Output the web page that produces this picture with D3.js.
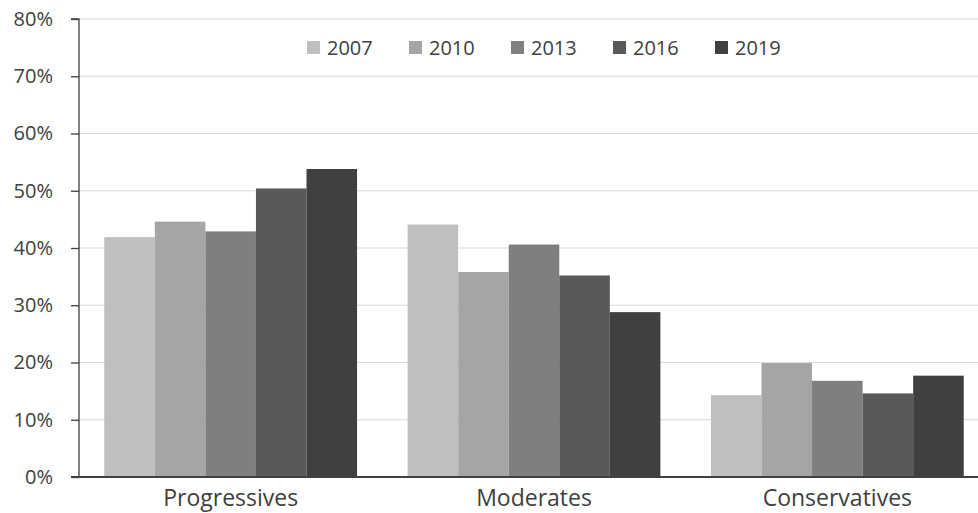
<!DOCTYPE html>
<html>
<head>
<meta charset="utf-8">
<script src="https://cdn.jsdelivr.net/npm/d3@7"></script>
<style>
  html, body { margin: 0; padding: 0; background: #fff; }
  svg { display: block; }
  text { font-family: "Open Sans", "Noto Sans", sans-serif; fill: #404040; }
</style>
</head>
<body>
<svg id="chart" width="978" height="513"></svg>
<script>
// Share of respondents by political group, per survey year
const categories = ["Progressives", "Moderates", "Conservatives"];
const years = ["2007", "2010", "2013", "2016", "2019"];
const values2007 = [41.9, 44.1, 14.3];
const values2010 = [44.6, 35.8, 19.9];
const values2013 = [42.9, 40.6, 16.8];
const values2016 = [50.4, 35.2, 14.6];
const values2019 = [53.8, 28.8, 17.7];
const yTicks = [0, 10, 20, 30, 40, 50, 60, 70, 80];
const colors = ["#bfbfbf", "#a5a5a5", "#7f7f7f", "#595959", "#404040"];

const series = [values2007, values2010, values2013, values2016, values2019];

const svg = d3.select("#chart");
const m = { left: 79, top: 19, bottom: 477, right: 989 };

const x0 = d3.scaleBand().domain(categories).range([m.left, m.right]).padding(0);
const step = x0.bandwidth();
const x1 = d3.scaleBand().domain(years).range([step / 12, step * 11 / 12]).padding(0);
const y = d3.scaleLinear().domain([0, 80]).range([m.bottom, m.top]);
const color = d3.scaleOrdinal().domain(years).range(colors);

// Gridlines
svg.append("g")
  .selectAll("line")
  .data(yTicks.filter(t => t > 0))
  .join("line")
  .attr("x1", m.left).attr("x2", 978)
  .attr("y1", d => y(d)).attr("y2", d => y(d))
  .attr("stroke", "#d9d9d9").attr("stroke-width", 1.2);

// Bars
const rows = categories.map((c, i) => ({ cat: c, vals: years.map((yr, j) => ({ year: yr, v: series[j][i] })) }));
svg.append("g")
  .selectAll("g")
  .data(rows)
  .join("g")
  .attr("transform", d => `translate(${x0(d.cat)},0)`)
  .selectAll("rect")
  .data(d => d.vals)
  .join("rect")
  .attr("x", d => x1(d.year))
  .attr("width", x1.bandwidth())
  .attr("y", d => y(d.v))
  .attr("height", d => y(0) - y(d.v))
  .attr("fill", d => color(d.year));

// Y axis
const yAxis = d3.axisLeft(y)
  .tickValues(yTicks)
  .tickFormat(d => d + "%")
  .tickSize(8)
  .tickPadding(18);
const gy = svg.append("g").attr("transform", `translate(${m.left},0)`).call(yAxis);
gy.select(".domain").attr("stroke", "#404040").attr("stroke-width", 1.3).attr("d", `M-8,${m.top}H0V${m.bottom}`);
gy.selectAll(".tick line").attr("stroke", "#404040").attr("stroke-width", 1.3);
gy.selectAll(".tick text").attr("font-size", 20).attr("fill", "#404040")
  .attr("font-family", "'Open Sans', sans-serif");

// X axis
const xAxis = d3.axisBottom(x0).tickSize(0).tickPadding(13);
const gx = svg.append("g").attr("transform", `translate(0,${m.bottom})`).call(xAxis);
gx.select(".domain").attr("stroke", "#404040").attr("stroke-width", 2).attr("d", `M${m.left - 8},0H${m.right}`);
gx.selectAll(".tick text").attr("font-size", 23).attr("fill", "#404040")
  .attr("font-family", "'Open Sans', sans-serif");

// Legend
const legend = svg.append("g").attr("transform", "translate(307,41)");
const item = legend.selectAll("g")
  .data(years)
  .join("g")
  .attr("transform", (d, i) => `translate(${i * 102},0)`);
item.append("rect").attr("width", 13).attr("height", 13).attr("fill", d => color(d));
item.append("text")
  .attr("x", 20).attr("y", 6.5).attr("dy", "0.36em")
  .attr("font-size", 20)
  .text(d => d);
</script>
</body>
</html>
